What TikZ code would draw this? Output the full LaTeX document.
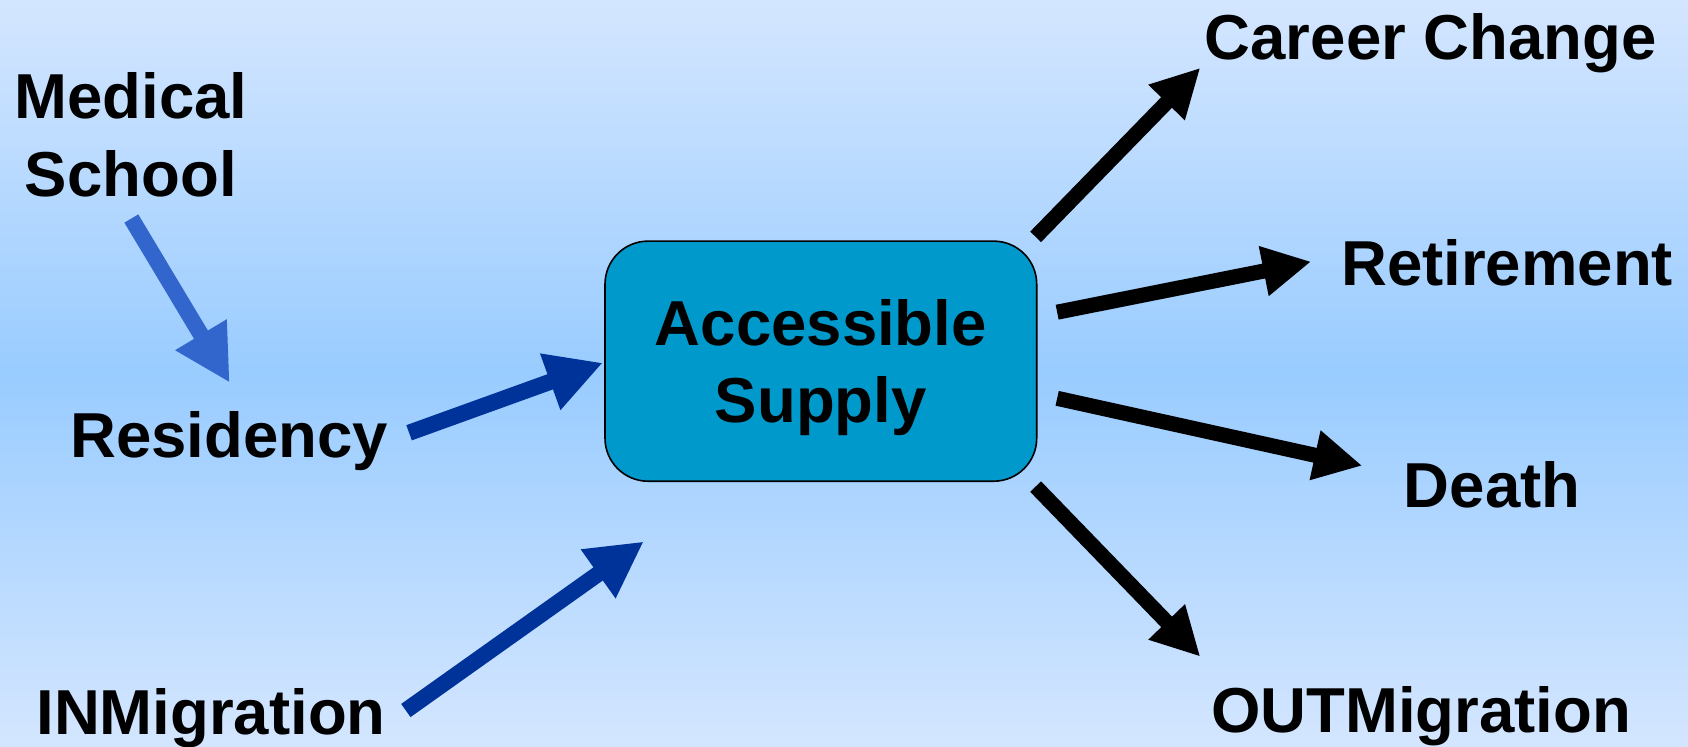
\documentclass[tikz,border=0pt]{standalone}
\usepackage{fontspec}
\setmainfont{Liberation Sans}
\usetikzlibrary{arrows.meta}
\definecolor{bgl}{HTML}{D4E6FF}
\definecolor{bgm}{HTML}{99CCFF}
\definecolor{boxfill}{HTML}{0099CC}
\definecolor{lblue}{HTML}{3366CC}
\definecolor{dblue}{HTML}{003399}
\tikzset{
  lbl/.style={font=\fontsize{59}{72}\selectfont\bfseries, inner sep=0pt, align=center},
  flowin/.style={line width=15pt, -{Triangle[length=52pt,width=52pt]}},
  flowout/.style={line width=14pt, -{Triangle[length=45pt,width=44pt]}},
  supplybox/.style={draw=black, line width=1.5pt, fill=boxfill, rounded corners=40pt,
    minimum width=401pt, minimum height=223pt, inner sep=0pt, text depth=0pt,
    font=\fontsize{59}{72}\selectfont\bfseries, align=center}
}
\begin{document}
\begin{tikzpicture}[x=1pt,y=-1pt]
\fill[top color=bgl, bottom color=bgl, middle color=bgm] (0,0) rectangle (1568,693);
\useasboundingbox (0,0) rectangle (1568,693);

\node[lbl] (ms) at (121.5,125) {Medical\\School};
\node[lbl, anchor=base] (res) at (213,425) {Residency};
\node[lbl, anchor=base] (inm) at (196,682) {INMigration};
\node[supplybox] (box) at (762.5,335.5) {Accessible\\Supply};
\node[lbl, anchor=base] (cc) at (1329,55) {Career Change};
\node[lbl, anchor=base] (ret) at (1400,265) {Retirement};
\node[lbl, anchor=base] (dea) at (1386,471) {Death};
\node[lbl, anchor=base] (outm) at (1320,680) {OUTMigration};

\coordinate (a1s) at (122,203);  \coordinate (a1e) at (213.4,355.5);
\coordinate (a2s) at (380,402);  \coordinate (a2e) at (560,337);
\coordinate (a3s) at (377,660);  \coordinate (a3e) at (598,503);
\coordinate (a4s) at (962,220);  \coordinate (a4e) at (1115,63);
\coordinate (a5s) at (982,290);  \coordinate (a5e) at (1218,243);
\coordinate (a6s) at (982,370);  \coordinate (a6e) at (1265.5,432.6);
\coordinate (a7s) at (962,452);  \coordinate (a7e) at (1115,610);

\draw[flowin, lblue] (a1s) -- (a1e);
\draw[flowin, dblue] (a2s) -- (a2e);
\draw[flowin, dblue] (a3s) -- (a3e);
\draw[flowout, black] (a4s) -- (a4e);
\draw[flowout, black] (a5s) -- (a5e);
\draw[flowout, black] (a6s) -- (a6e);
\draw[flowout, black] (a7s) -- (a7e);
\end{tikzpicture}
\end{document}
